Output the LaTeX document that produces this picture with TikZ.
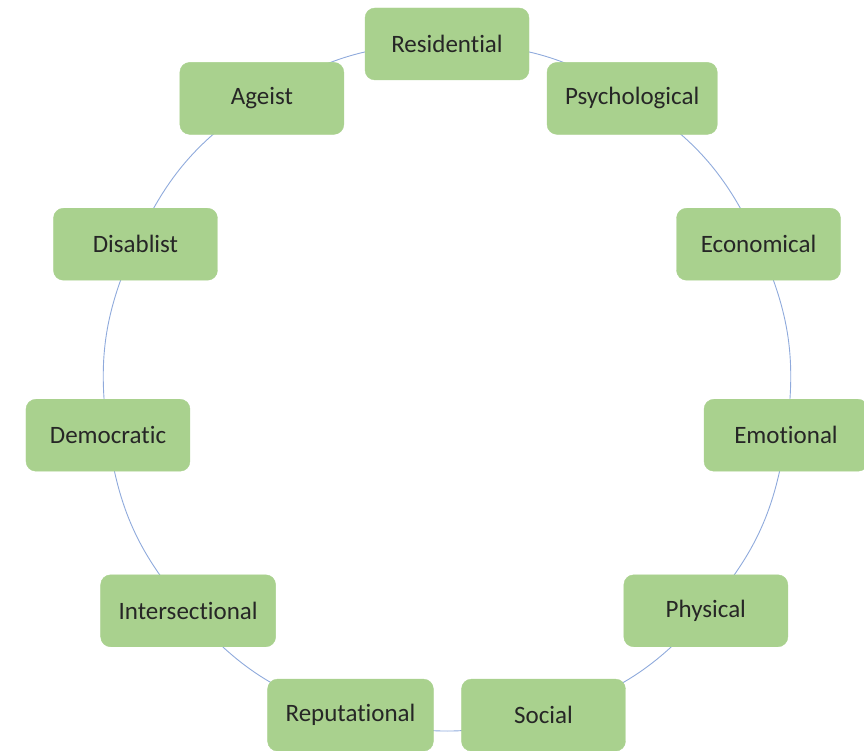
\documentclass[tikz,border=0pt]{standalone}
\usepackage{fontspec}
\setmainfont[Ligatures=NoCommon]{Carlito}
\usetikzlibrary{positioning,backgrounds}
\definecolor{boxgreen}{HTML}{A9D18E}
\definecolor{ringblue}{HTML}{8FAADC}

\begin{document}
\begin{tikzpicture}[x=1pt,y=1pt,
      mybox/.style={
         rectangle,
         rounded corners=10pt,
         fill=boxgreen,
         draw=boxgreen,
         text=black!85,
         inner xsep=18pt,
         minimum width=164pt,
         minimum height=72pt,
         font=\fontsize{25}{30}\selectfont},
      myring/.style={draw=ringblue, line width=0.9pt}
      ]
      \useasboundingbox (0,0) rectangle (864,-751);
      \coordinate (c) at (447,-386.5);

    \foreach \name/\txt [count=\k from 0] in {% node name/text
	  res/Residential,
	psy/Psychological,
	eco/Economical,
	emo/Emotional,
	phy/Physical,
	soc/Social,
	rep/Reputational,
	int/Intersectional,
	dem/Democratic,
	dis/Disablist,
	age/Ageist}
       \node[mybox] (\name) at ([shift={({90-\k*360/11}:342.5)}]c) {\txt};

    \begin{scope}[on background layer]
    \foreach \i/\j in {% start node/end node
	  res/psy, psy/eco, eco/emo, emo/phy, phy/soc, soc/rep,
	rep/int, int/dem, dem/dis, dis/age, age/res}
       \draw [myring] (\i.center) to[bend left=16.4] (\j.center);
    \end{scope}

    \end{tikzpicture}
\end{document}
